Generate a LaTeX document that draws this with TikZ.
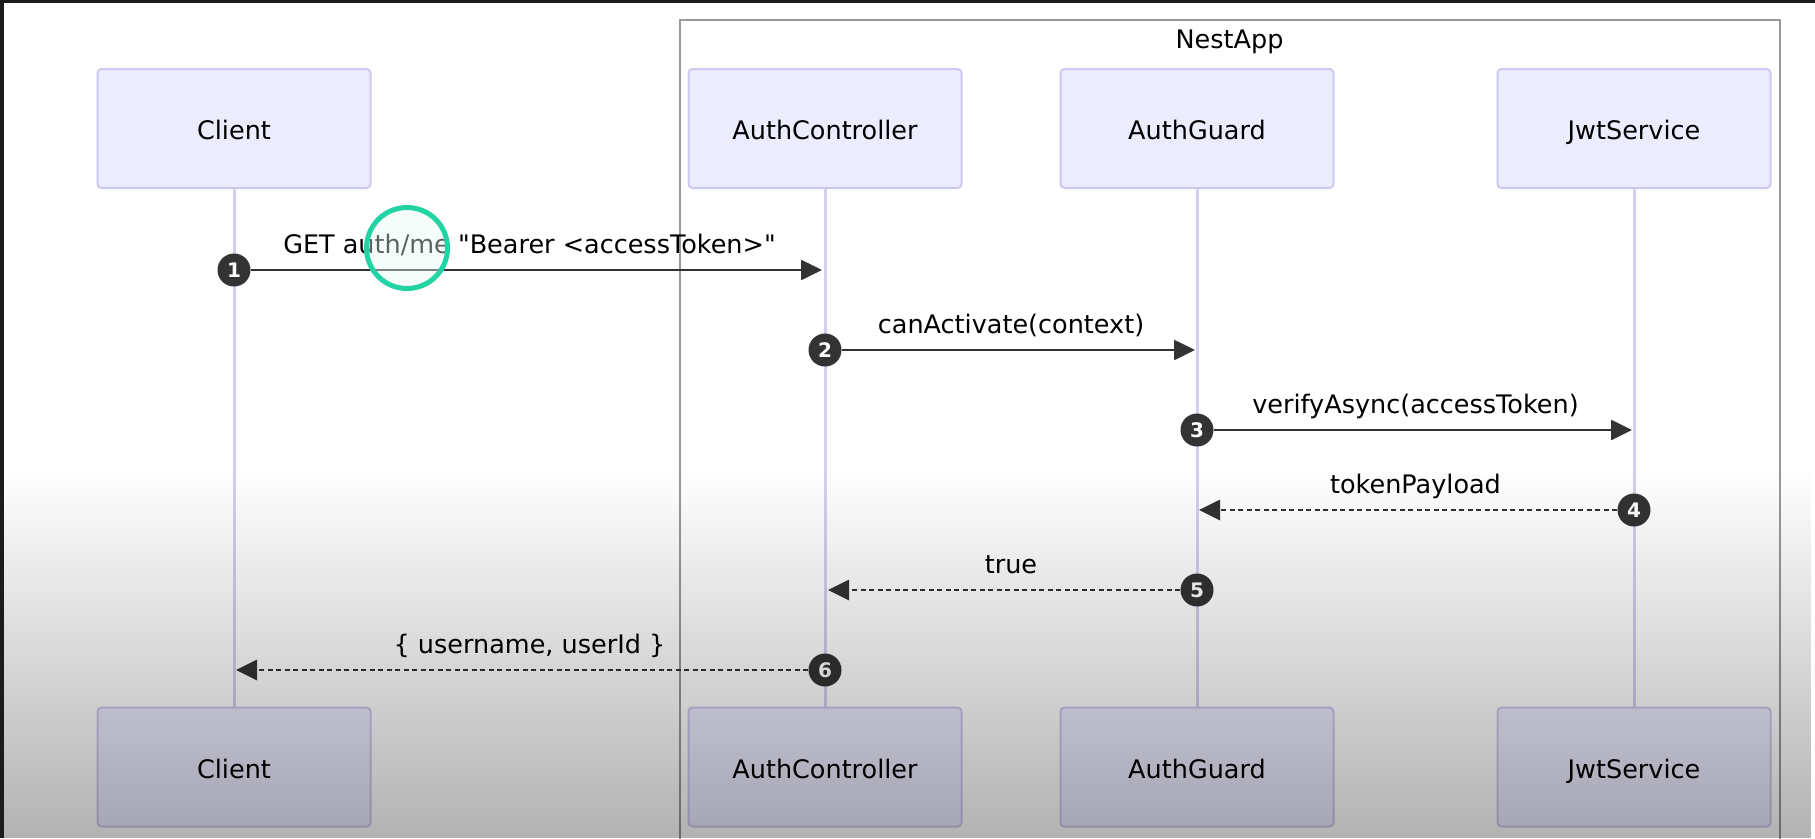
\documentclass[tikz,border=0pt]{standalone}
\usepackage{fontspec}
\setmainfont{DejaVu Sans}[Ligatures=TeXOff]
\usetikzlibrary{arrows.meta,fadings}
\definecolor{actbg}{HTML}{ECECFF}
\definecolor{actbd}{HTML}{CDC9EE}
\definecolor{life}{HTML}{D3CFEF}
\definecolor{msg}{HTML}{333333}
\definecolor{framec}{HTML}{999999}
\definecolor{ringc}{HTML}{22D4A4}
\definecolor{barc}{HTML}{1C1C1C}
\tikzfading[name=fadedown, top color=transparent!100, bottom color=transparent!0]
\begin{document}
\begin{tikzpicture}[x=1pt,y=-1pt,
  actor/.style={draw=actbd, line width=2pt, fill=actbg, rounded corners=4pt,
    minimum width=273pt, minimum height=119pt, inner sep=0pt,
    text height=22.6pt, text depth=0pt,
    font=\fontsize{25.5}{30}\selectfont, text=black},
  lifeline/.style={draw=life, line width=3pt},
  req/.style={draw=msg, line width=2.6pt, -{Triangle[length=21pt,width=20pt]}},
  resp/.style={req, line width=2.8pt, dash pattern=on 5pt off 3.5pt},
  num/.style={circle, fill=msg, text=white, minimum size=33pt, inner sep=0pt,
    font=\fontsize{20}{22}\selectfont\bfseries},
  lbl/.style={anchor=base, font=\fontsize{25.5}{30}\selectfont, text=black},
  frame/.style={draw=framec, line width=2pt}
]
\useasboundingbox (0,0) rectangle (1815,838);
\fill[white] (0,0) rectangle (1815,838);

% NestApp box
\draw[frame] (679.5,840) -- (679.5,20) -- (1780,20) -- (1780,840);
\node[lbl] (nest) at (1229.5,48) {NestApp};

% actors
\node[actor] (cT)  at (234,128.5)  {Client};
\node[actor] (acT) at (825,128.5)  {AuthController};
\node[actor] (agT) at (1197,128.5) {AuthGuard};
\node[actor] (jsT) at (1634,128.5) {JwtService};
\node[actor] (cB)  at (234,767)    {Client};
\node[actor] (acB) at (825,767)    {AuthController};
\node[actor] (agB) at (1197,767)   {AuthGuard};
\node[actor] (jsB) at (1634,767)   {JwtService};

% lifelines
\draw[lifeline] (cT.south) -- (cB.north);
\draw[lifeline] (acT.south) -- (acB.north);
\draw[lifeline] (agT.south) -- (agB.north);
\draw[lifeline] (jsT.south) -- (jsB.north);

% message end points
\coordinate (e1) at (822,270);
\coordinate (e2) at (1195,350);
\coordinate (e3) at (1632,430);
\coordinate (e4) at (1199,510);
\coordinate (e5) at (828,590);
\coordinate (e6) at (236,670);

% numbers
\node[num] (n1) at (234,270)  {1};
\node[num] (n2) at (825,350)  {2};
\node[num] (n3) at (1197,430) {3};
\node[num] (n4) at (1634,510) {4};
\node[num] (n5) at (1197,590) {5};
\node[num] (n6) at (825,670)  {6};

% messages
\draw[req]  (n1) -- (e1);
\draw[req]  (n2) -- (e2);
\draw[req]  (n3) -- (e3);
\draw[resp] (n4) -- (e4);
\draw[resp] (n5) -- (e5);
\draw[resp] (n6) -- (e6);

% labels
\node[lbl] (l1) at (529.5,253)  {GET auth/me "Bearer <accessToken>"};
\node[lbl] (l2) at (1011,333)   {canActivate(context)};
\node[lbl] (l3) at (1415.5,413) {verifyAsync(accessToken)};
\node[lbl] (l4) at (1415.5,493) {tokenPayload};
\node[lbl] (l5) at (1011,573)   {true};
\node[lbl] (l6) at (529.5,653)  {\{ username, userId \}};

% video overlay gradient
\fill[black, fill opacity=0.3, path fading=fadedown] (0,470) rectangle (1815,838);

% screen edges
\fill[barc] (0,0) rectangle (1815,3);
\fill[barc] (0,0) rectangle (4,838);

% cursor highlight ring
\draw[ringc, line width=5pt, fill=ringc!12, fill opacity=0.4] (407,248) circle (40.5);
\end{tikzpicture}
\end{document}
